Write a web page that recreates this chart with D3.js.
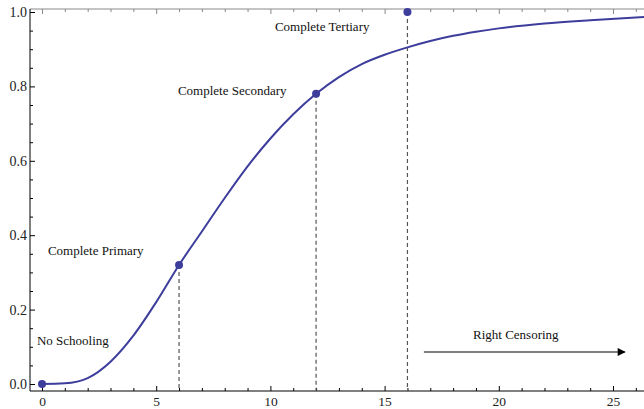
<!DOCTYPE html>
<html lang="en">
<head>
  <meta charset="UTF-8" />
  <title>Schooling CDF</title>
  <script src="https://d3js.org/d3.v7.min.js"></script>
  <style>
    body { margin: 0; background: #fff; }
    text { font-family: "Liberation Serif", "Times New Roman", serif; }
  </style>
</head>
<body>
  <div id="chart"></div>
  <script>
    // curve
    const years = [0, 1, 2, 3, 4, 5, 6, 7, 8, 9, 10, 11, 12, 13, 14, 15, 16, 17, 18, 19, 20, 22, 24, 26.4];
    const share = [0, 0.002, 0.016, 0.06, 0.13, 0.22, 0.32, 0.41, 0.5, 0.585, 0.66, 0.725, 0.78, 0.825, 0.86, 0.885, 0.905, 0.922, 0.936, 0.947, 0.956, 0.969, 0.978, 0.987];

    // completion points
    const pointX = [0, 6, 12, 16];
    const pointY = [0, 0.32, 0.78, 1.0];
    const dropX = [6, 12, 16];

    const labelText = ["No Schooling", "Complete Primary", "Complete Secondary", "Complete Tertiary", "Right Censoring"];
    const labelX = [-0.22, 0.26, 5.95, 10.2, 18.87];
    const labelY = [0.118, 0.36, 0.79, 0.962, 0.132];

    const censorFrom = 16.72, censorTo = 25.52, censorY = 0.086;

    const xMajor = [0, 5, 10, 15, 20, 25];
    const yMajor = [0, 0.2, 0.4, 0.6, 0.8, 1.0];

    const width = 644, height = 409;
    const frameL = 30, frameB = 391, frameT = 9;
    const svg = d3.select("#chart").append("svg").attr("width", width).attr("height", height);

    const x = d3.scaleLinear().domain([0, 25]).range([42, 613]);
    const y = d3.scaleLinear().domain([0, 1]).range([384, 12]);

    const xMinor = d3.range(0, 27).filter(d => d % 5 !== 0);
    const yMinor = d3.range(0, 21).map(d => d * 0.05).filter((d, i) => i % 4 !== 0);

    // bottom axis
    const gb = svg.append("g").attr("transform", `translate(0,${frameB})`);
    gb.call(d3.axisBottom(x).tickValues(xMajor).tickFormat(d3.format("d")).tickSizeInner(-5).tickSizeOuter(0).tickPadding(5));
    gb.append("g").call(d3.axisBottom(x).tickValues(xMinor).tickFormat("").tickSizeInner(-3).tickSizeOuter(0))
      .select(".domain").remove();
    gb.select(".domain").attr("d", `M${frameL},0H${width}`);

    // top frame (grey)
    const gt = svg.append("g").attr("transform", `translate(0,${frameT})`);
    gt.call(d3.axisTop(x).tickValues(xMajor).tickFormat("").tickSizeInner(-5).tickSizeOuter(0));
    gt.append("g").call(d3.axisTop(x).tickValues(xMinor).tickFormat("").tickSizeInner(-3).tickSizeOuter(0))
      .select(".domain").remove();
    gt.select(".domain").attr("d", `M${frameL},0H${width}`);
    gt.selectAll("path, line").attr("stroke", "#888");

    // left axis
    const gl = svg.append("g").attr("transform", `translate(${frameL},0)`);
    gl.call(d3.axisLeft(y).tickValues(yMajor).tickFormat(d3.format(".1f")).tickSizeInner(-5).tickSizeOuter(0).tickPadding(3));
    gl.append("g").call(d3.axisLeft(y).tickValues(yMinor).tickFormat("").tickSizeInner(-3).tickSizeOuter(0))
      .select(".domain").remove();
    gl.select(".domain").attr("d", `M0,${frameT}V${frameB}`);

    gl.selectAll(".tick text").style("font-size", "14px").attr("fill", "#222");
    gb.selectAll(".tick text").style("font-size", "13.5px").attr("fill", "#222");

    // dashed drop lines
    svg.append("g").selectAll("line").data(dropX).enter().append("line")
      .attr("x1", d => x(d)).attr("x2", d => x(d))
      .attr("y1", d => y(pointY[pointX.indexOf(d)])).attr("y2", frameB)
      .attr("stroke", "#555").attr("stroke-width", 1.2).attr("stroke-dasharray", "4,3");

    // curve
    const pts = years.map((d, i) => [d, share[i]]);
    svg.append("path").datum(pts)
      .attr("fill", "none").attr("stroke", "#3d3d9c").attr("stroke-width", 2)
      .attr("d", d3.line().x(d => x(d[0])).y(d => y(d[1])).curve(d3.curveMonotoneX));

    // points
    svg.append("g").selectAll("circle").data(pointX).enter().append("circle")
      .attr("cx", d => x(d)).attr("cy", (d, i) => y(pointY[i])).attr("r", 4)
      .attr("fill", "#3d3d9c");

    // annotations
    svg.append("g").selectAll("text").data(labelText).enter().append("text")
      .attr("x", (d, i) => x(labelX[i])).attr("y", (d, i) => y(labelY[i]))
      .attr("dominant-baseline", "central")
      .style("font-size", "13px").attr("fill", "#111")
      .text(d => d);

    svg.append("defs").append("marker")
      .attr("id", "arrow").attr("viewBox", "0 0 10 10").attr("refX", 9).attr("refY", 5)
      .attr("markerWidth", 10).attr("markerHeight", 8).attr("markerUnits", "userSpaceOnUse")
      .attr("orient", "auto")
      .append("path").attr("d", "M0,0L10,5L0,10Z").attr("fill", "#000");

    svg.append("line")
      .attr("x1", x(censorFrom)).attr("x2", x(censorTo))
      .attr("y1", y(censorY)).attr("y2", y(censorY))
      .attr("stroke", "#000").attr("stroke-width", 1.2).attr("marker-end", "url(#arrow)");
  </script>
</body>
</html>
